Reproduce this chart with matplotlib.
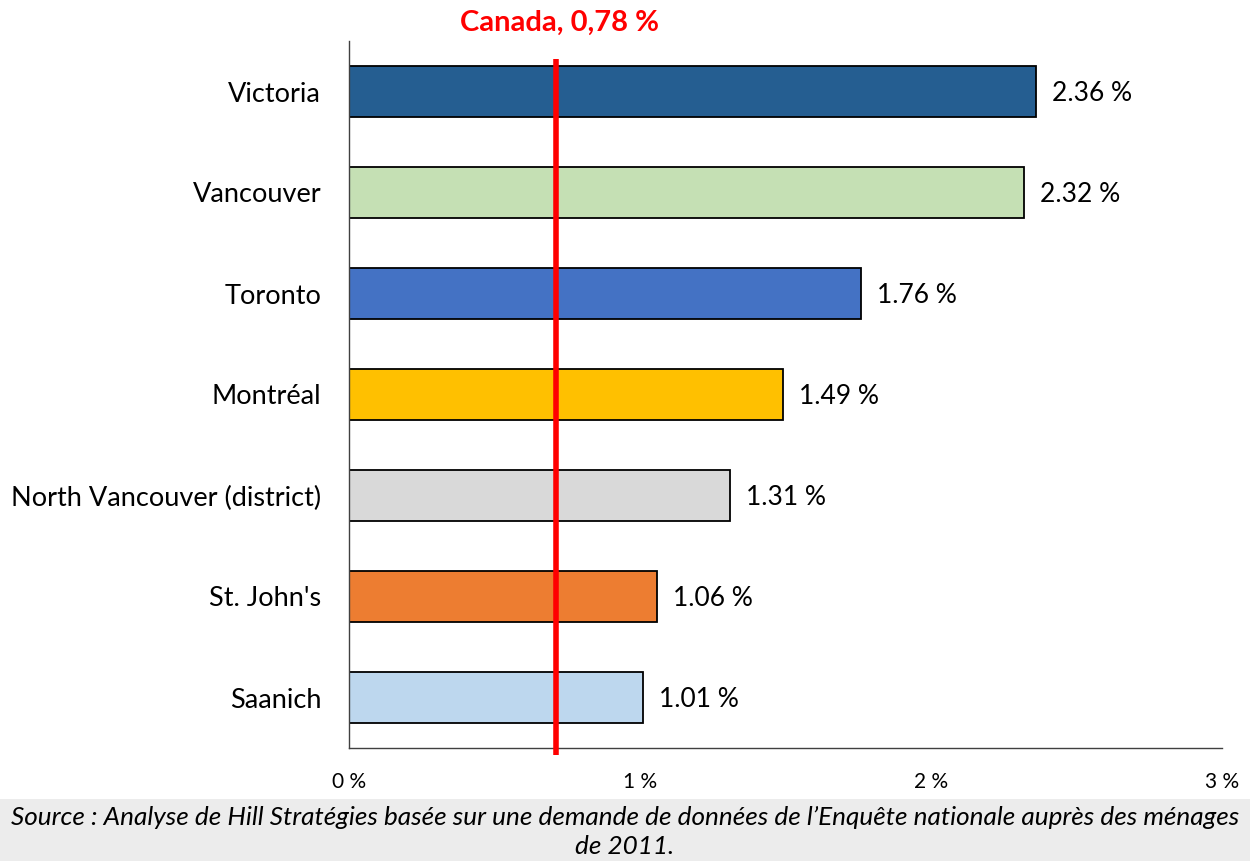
import matplotlib
matplotlib.use("Agg")
import matplotlib.pyplot as plt
from matplotlib.patches import Rectangle

plt.rcParams['font.family'] = ['Lato', 'DejaVu Sans']

categories = ["Victoria", "Vancouver", "Toronto", "Montréal",
              "North Vancouver (district)", "St. John's", "Saanich"]
values = [2.36, 2.32, 1.76, 1.49, 1.31, 1.06, 1.01]
value_labels = ["2.36 %", "2.32 %", "1.76 %", "1.49 %", "1.31 %", "1.06 %", "1.01 %"]
colors = ["#255E91", "#C5E0B4", "#4472C4", "#FFC000", "#D9D9D9", "#ED7D31", "#BDD7EE"]
xticks = [0, 1, 2, 3]
xtick_labels = ["0 %", "1 %", "2 %", "3 %"]
canada_line = 0.71
canada_label = "Canada, 0,78 %"
source_text = ("Source : Analyse de Hill Stratégies basée sur une demande de données de l’Enquête nationale auprès des ménages\n"
               "de 2011.")

fig = plt.figure(figsize=(12.5, 8.61), dpi=100)
W, H = 1250, 861
ax = fig.add_axes([349 / W, 1 - 748 / H, (1222 - 349) / W, (748 - 41) / H])

# gray source band
fig.patches.append(Rectangle((0, 0), 1, (H - 799) / H, transform=fig.transFigure,
                             facecolor="#ECECEC", edgecolor="none", zorder=0))

y = list(range(len(categories)))
ax.barh(y, values, height=0.5, color=colors, edgecolor="black", linewidth=1.3, zorder=2)
for yi, v, lab in zip(y, values, value_labels):
    ax.text(v + 0.055, yi + 0.02, lab, va="center", ha="left", fontsize=19, color="black")

ax.set_xlim(0, 3)
ax.set_ylim(len(categories) - 0.5, -0.5)
ax.set_yticks(y)
ax.set_yticklabels(categories, fontsize=19.5)
ax.set_xticks(xticks)
ax.set_xticklabels(xtick_labels, fontsize=15)
ax.tick_params(axis="both", length=0)
ax.tick_params(axis="y", pad=20)
ax.tick_params(axis="x", pad=17)
for s in ["top", "right"]:
    ax.spines[s].set_visible(False)
for s in ["left", "bottom"]:
    ax.spines[s].set_color("#404040")
    ax.spines[s].set_linewidth(1.0)

# Canada line
ax.plot([canada_line, canada_line], [-0.32, 6.57], color="#FF0000", linewidth=4,
        clip_on=False, zorder=3, solid_capstyle="butt")
ax.text(canada_line + 0.015, -0.5 - (41 - 23) / 101, canada_label, color="#FF0000",
        fontsize=21, fontweight="bold", ha="center", va="center", clip_on=False)

fig.text(0.5, 1 - 832 / H, source_text, ha="center", va="center", fontsize=18.8,
         style="italic", linespacing=1.3)

fig.savefig("out.png", dpi=100)
